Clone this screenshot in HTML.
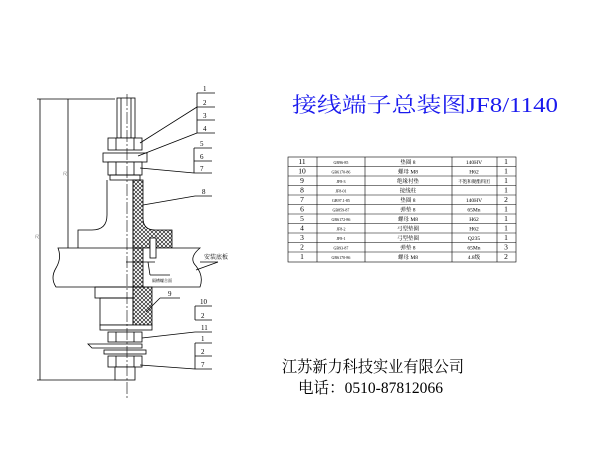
<!DOCTYPE html>
<html><head><meta charset="utf-8"><style>
html,body{margin:0;padding:0;background:#fff;width:600px;height:450px;overflow:hidden}
svg{display:block}
.t{font-family:"Liberation Serif","Noto Serif CJK SC",serif}
</style></head><body>
<svg width="600" height="450" viewBox="0 0 600 450" xmlns="http://www.w3.org/2000/svg">
<defs>
<pattern id="h" width="4" height="4" patternUnits="userSpaceOnUse">
<path d="M0 0L4 4M4 0L0 4" stroke="#000" stroke-width="0.6"/>
</pattern>
</defs>
<g stroke="#000" stroke-width="0.8" fill="none">
<!-- dimension lines -->
<line x1="40" y1="99" x2="40" y2="380"/>
<line x1="37" y1="99" x2="115" y2="99"/>
<line x1="37" y1="380" x2="115" y2="380"/>
<line x1="68" y1="99" x2="68" y2="248"/>
<!-- bolt top -->
<rect x="117" y="98" width="18" height="40"/>
<line x1="121" y1="98" x2="121" y2="138"/><line x1="131" y1="98" x2="131" y2="138"/>
<!-- nut 1 -->
<rect x="108" y="138" width="34" height="12" fill="#fff"/>
<line x1="116" y1="138" x2="116" y2="150"/><line x1="134" y1="138" x2="134" y2="150"/>
<!-- washer -->
<rect x="103" y="153" width="44" height="9" fill="#fff"/>
<!-- nut 7 -->
<rect x="108" y="162" width="34" height="13" fill="#fff"/>
<line x1="116" y1="162" x2="116" y2="175"/><line x1="134" y1="162" x2="134" y2="175"/>
<rect x="110" y="175" width="30" height="5"/>
<!-- post body -->
<path d="M107 180 L107 215 Q107 230 92 230 L78 230 L78 248"/>
<line x1="133" y1="180" x2="133" y2="248"/>
<!-- insulation 8 -->
<path d="M133 180 L143 180 L143 218 Q143 230 155 230 L172 230 L172 248 L133 248 Z" fill="url(#h)"/>
<!-- panel -->
<path d="M58 248 L200 248 Q188 258 196 266 Q204 276 200 287 L56 287 Q50 278 56 268 Q62 258 58 248 Z" fill="#fff"/>
<rect x="133" y="248" width="10" height="39" fill="url(#h)"/>
<rect x="150" y="238" width="6" height="20" fill="#fff"/>
<line x1="126" y1="262" x2="155" y2="262"/>
<line x1="148" y1="262" x2="150" y2="275"/><line x1="150" y1="275" x2="170" y2="275"/>
<!-- lower part -->
<rect x="95" y="287" width="38" height="11"/>
<rect x="100" y="298" width="33" height="27"/>
<path d="M133 287 L143 287 L143 287 L152 287 L152 325 L133 325 Z" fill="url(#h)"/>
<rect x="100" y="325" width="52" height="5" fill="#fff"/>
<!-- nut 11 -->
<rect x="108" y="332" width="34" height="10" fill="#fff"/>
<line x1="116" y1="332" x2="116" y2="342"/><line x1="134" y1="332" x2="134" y2="342"/>
<!-- lug -->
<path d="M88 344 L142 344 L142 348 L92 348 Z" fill="#fff"/>
<rect x="104" y="350" width="42" height="4" fill="#fff"/>
<rect x="108" y="356" width="34" height="11" fill="#fff"/>
<line x1="116" y1="356" x2="116" y2="367"/><line x1="134" y1="356" x2="134" y2="367"/>
<rect x="115" y="367" width="20" height="13" fill="#fff"/>
<!-- center line -->
<line x1="127" y1="94" x2="127" y2="398" stroke-dasharray="12 2 2 2" stroke-width="0.6"/>
<!-- leaders top -->
<line x1="197" y1="93" x2="197" y2="133"/>
<line x1="197" y1="93" x2="215" y2="93"/><line x1="197" y1="107" x2="215" y2="107"/>
<line x1="197" y1="120" x2="215" y2="120"/><line x1="197" y1="133" x2="215" y2="133"/>
<line x1="197" y1="107" x2="140" y2="143"/>
<line x1="197" y1="133" x2="138" y2="156"/>
<line x1="194" y1="148" x2="194" y2="173"/>
<line x1="194" y1="148" x2="212" y2="148"/><line x1="194" y1="161" x2="212" y2="161"/><line x1="194" y1="173" x2="212" y2="173"/>
<line x1="194" y1="173" x2="140" y2="168"/>
<line x1="195" y1="196" x2="212" y2="196"/><line x1="195" y1="196" x2="143" y2="205"/>
<line x1="180" y1="298" x2="160" y2="298"/><line x1="160" y1="298" x2="146" y2="312"/>
<line x1="200" y1="262" x2="218" y2="262"/><line x1="218" y1="262" x2="196" y2="270"/>
<!-- leaders bottom -->
<line x1="195" y1="306" x2="195" y2="320"/>
<line x1="195" y1="306" x2="212" y2="306"/><line x1="195" y1="320" x2="212" y2="320"/>
<line x1="195" y1="332" x2="212" y2="332"/><line x1="195" y1="332" x2="142" y2="338"/>
<line x1="195" y1="343" x2="195" y2="369"/>
<line x1="195" y1="343" x2="212" y2="343"/><line x1="195" y1="356" x2="212" y2="356"/><line x1="195" y1="369" x2="212" y2="369"/>
<line x1="195" y1="369" x2="140" y2="365"/>
</g>
<g class="t" font-size="7" fill="#000">
<text x="203" y="91">1</text><text x="203" y="105">2</text><text x="203" y="118">3</text><text x="203" y="131">4</text>
<text x="200" y="146">5</text><text x="200" y="159">6</text><text x="200" y="171">7</text>
<text x="202" y="194">8</text><text x="168" y="296">9</text>
<text x="200" y="304">10</text><text x="201" y="318">2</text><text x="201" y="330">11</text>
<text x="201" y="341">1</text><text x="201" y="354">2</text><text x="201" y="367">7</text>
<text x="204" y="259" font-size="6">安装底板</text>
<text x="152" y="282" font-size="4">隔槽螺合面</text>
<text x="35" y="238" font-size="4">尺</text><text x="63" y="175" font-size="4">尺</text>
</g>
<!-- table -->
<g stroke="#000" stroke-width="0.6" fill="none">
<rect x="288" y="157" width="228" height="105"/>
<line x1="317" y1="157" x2="317" y2="262"/><line x1="365" y1="157" x2="365" y2="262"/>
<line x1="452" y1="157" x2="452" y2="262"/><line x1="497" y1="157" x2="497" y2="262"/>
<line x1="288" y1="166.5" x2="516" y2="166.5"/><line x1="288" y1="176" x2="516" y2="176"/>
<line x1="288" y1="185.5" x2="516" y2="185.5"/><line x1="288" y1="195" x2="516" y2="195"/>
<line x1="288" y1="204.5" x2="516" y2="204.5"/><line x1="288" y1="214" x2="516" y2="214"/>
<line x1="288" y1="223.5" x2="516" y2="223.5"/><line x1="288" y1="233" x2="516" y2="233"/>
<line x1="288" y1="242.5" x2="516" y2="242.5"/><line x1="288" y1="252" x2="516" y2="252"/>
</g>
<g class="t" fill="#000" font-size="7" text-anchor="middle">
<g font-size="7.5">
<text x="302" y="164">11</text><text x="302" y="173.5">10</text><text x="302" y="183">9</text><text x="302" y="192.5">8</text>
<text x="302" y="202">7</text><text x="302" y="211.5">6</text><text x="302" y="221">5</text><text x="302" y="230.5">4</text>
<text x="302" y="240">3</text><text x="302" y="249.5">2</text><text x="302" y="259">1</text>
<text x="506" y="164">1</text><text x="506" y="173.5">1</text><text x="506" y="183">1</text><text x="506" y="192.5">1</text>
<text x="506" y="202">2</text><text x="506" y="211.5">1</text><text x="506" y="221">1</text><text x="506" y="230.5">1</text>
<text x="506" y="240">1</text><text x="506" y="249.5">3</text><text x="506" y="259">2</text>
</g>
<g font-size="4">
<text x="341" y="164">GB96-85</text><text x="341" y="173.5">GB6170-86</text><text x="341" y="183">JF8-3</text><text x="341" y="192.5">JF8-01</text>
<text x="341" y="202">GB97.1-85</text><text x="341" y="211.5">GB859-87</text><text x="341" y="221">GB6172-86</text><text x="341" y="230.5">JF8-2</text>
<text x="341" y="240">JF8-1</text><text x="341" y="249.5">GB93-87</text><text x="341" y="259">GB6170-86</text>
</g>
<g font-size="5.5">
<text x="408" y="164">垫圈 8</text><text x="408" y="173.5">螺母 M8</text><text x="408" y="183">绝缘衬垫</text><text x="408" y="192.5">接线柱</text>
<text x="408" y="202">垫圈 8</text><text x="408" y="211.5">弹垫 8</text><text x="408" y="221">螺母 M8</text><text x="408" y="230.5">弓型垫圈</text>
<text x="408" y="240">弓型垫圈</text><text x="408" y="249.5">弹垫 8</text><text x="408" y="259">螺母 M8</text>
<text x="474" y="164">140HV</text><text x="474" y="173.5">H62</text><text x="474" y="183" font-size="4.5">不饱和聚酯料团</text>
<text x="474" y="202">140HV</text><text x="474" y="211.5">65Mn</text><text x="474" y="221">H62</text><text x="474" y="230.5">H62</text>
<text x="474" y="240">Q235</text><text x="474" y="249.5">65Mn</text><text x="474" y="259">4.8级</text>
</g>
</g>
<text class="t" x="292" y="112" font-size="21" fill="#1a1aee" textLength="266" lengthAdjust="spacingAndGlyphs">接线端子总装图JF8/1140</text>
<text class="t" x="282" y="372" font-size="16" fill="#000" textLength="182" lengthAdjust="spacingAndGlyphs">江苏新力科技实业有限公司</text>
<text class="t" x="298" y="393" font-size="16" fill="#000" textLength="145" lengthAdjust="spacingAndGlyphs">电话：0510-87812066</text>
</svg>
</body></html>
